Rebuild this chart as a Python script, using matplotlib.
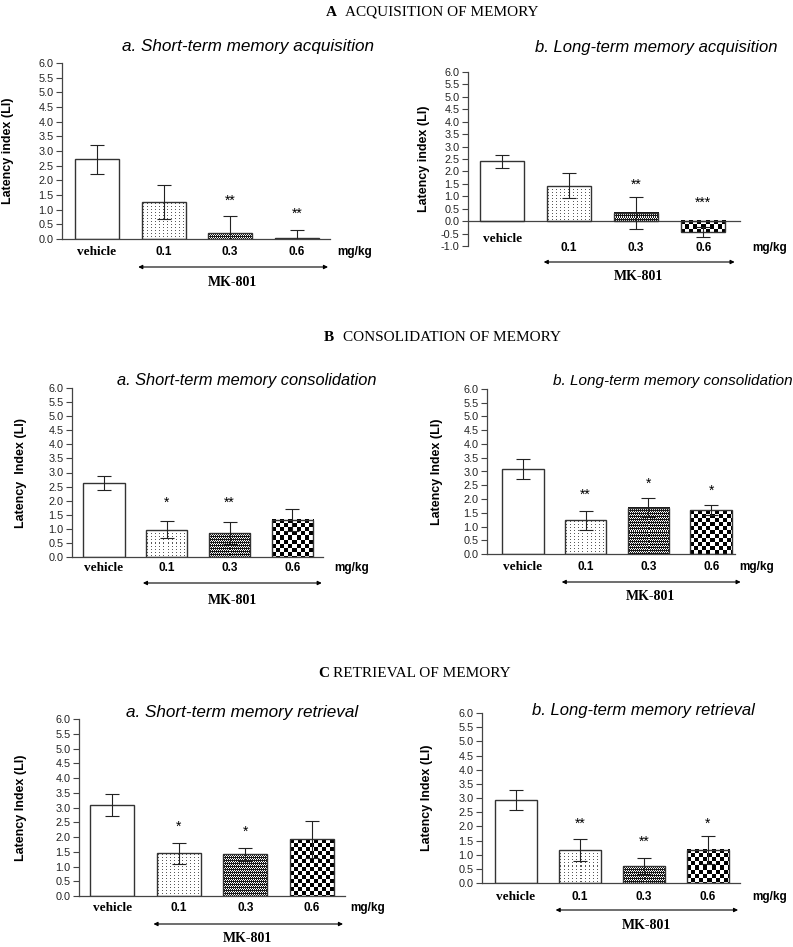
import numpy as np
import matplotlib.pyplot as plt
import matplotlib.transforms as mtransforms

W, H = 793, 947
SANS = 'Liberation Sans'
SERIF = 'Liberation Serif'

groups = ['vehicle', '0.1', '0.3', '0.6']
textures = [None, 'dots', 'fine', 'check']

# A - acquisition
acq_short = [2.72, 1.25, 0.20, 0.02]
acq_short_err = [0.50, 0.58, 0.58, 0.28]
acq_short_stars = ['', '', '**', '**']
acq_short_star_y = [0, 0, 1.30, 0.85]

acq_long = [2.40, 1.43, 0.33, -0.45]
acq_long_err = [0.25, 0.50, 0.65, 0.20]
acq_long_stars = ['', '', '**', '***']
acq_long_star_y = [0, 0, 1.48, 0.72]

# B - consolidation
con_short = [2.63, 0.97, 0.85, 1.32]
con_short_err = [0.25, 0.30, 0.38, 0.40]
con_short_stars = ['', '*', '**', '']
con_short_star_y = [0, 1.92, 1.92, 0]

con_long = [3.08, 1.22, 1.68, 1.60]
con_long_err = [0.37, 0.35, 0.35, 0.18]
con_long_stars = ['', '**', '*', '*']
con_long_star_y = [0, 2.15, 2.55, 2.29]

# C - retrieval
ret_short = [3.08, 1.45, 1.42, 1.92]
ret_short_err = [0.38, 0.35, 0.22, 0.62]
ret_short_stars = ['', '*', '*', '']
ret_short_star_y = [0, 2.34, 2.17, 0]

ret_long = [2.93, 1.17, 0.60, 1.17]
ret_long_err = [0.36, 0.38, 0.28, 0.50]
ret_long_stars = ['', '**', '**', '*']
ret_long_star_y = [0, 2.08, 1.45, 2.08]

panels = [
    ('a. Short-term memory acquisition', 'Latency index (LI)', acq_short, acq_short_err, acq_short_stars, acq_short_star_y,
     dict(box=(62, 330, 63, 239), ylim=(0, 6), xlim=(-0.525, 3.5), ylab_x=8, title=(248, 46), tsize=12.3,
          lab_y=(252, 252), mg_x=355, arrow_y=267, mk_y=283)),
    ('b. Long-term memory acquisition', 'Latency index (LI)', acq_long, acq_long_err, acq_long_stars, acq_long_star_y,
     dict(box=(468, 740, 72, 246), ylim=(-1, 6), xlim=(-0.51, 3.55), ylab_x=424, title=(656, 47), tsize=12,
          lab_y=(239, 248), mg_x=770, arrow_y=262, mk_y=276)),
    ('a. Short-term memory consolidation', 'Latency  Index (LI)', con_short, con_short_err, con_short_stars, con_short_star_y,
     dict(box=(72, 323, 388, 557), ylim=(0, 6), xlim=(-0.51, 3.49), ylab_x=21, title=(247, 381), tsize=11.8,
          lab_y=(568, 568), mg_x=352, arrow_y=583, mk_y=600)),
    ('b. Long-term memory consolidation', 'Latency Index (LI)', con_long, con_long_err, con_long_stars, con_long_star_y,
     dict(box=(487, 735, 389, 554), ylim=(0, 6), xlim=(-0.57, 3.38), ylab_x=437, title=(673, 381), tsize=11,
          lab_y=(567, 567), mg_x=757, arrow_y=582, mk_y=596)),
    ('a. Short-term memory retrieval', 'Latency Index (LI)', ret_short, ret_short_err, ret_short_stars, ret_short_star_y,
     dict(box=(79, 345, 719, 896), ylim=(0, 6), xlim=(-0.5, 3.5), ylab_x=21, title=(242, 712), tsize=12.3,
          lab_y=(908, 908), mg_x=368, arrow_y=924, mk_y=938)),
    ('b. Long-term memory retrieval', 'Latency Index (LI)', ret_long, ret_long_err, ret_long_stars, ret_long_star_y,
     dict(box=(482, 740, 713, 883), ylim=(0, 6), xlim=(-0.53, 3.5), ylab_x=427, title=(643, 710), tsize=12,
          lab_y=(897, 897), mg_x=770, arrow_y=910, mk_y=925)),
]

sections = [('A', 'ACQUISITION OF MEMORY', 326, 345, 12),
            ('B', 'CONSOLIDATION OF MEMORY', 324, 343, 337),
            ('C', 'RETRIEVAL OF MEMORY', 318, 333, 673)]


def fx(px):
    return px / W


def fy(py):
    return 1 - py / H


def texture(kind, h, w):
    yy, xx = np.mgrid[0:h, 0:w]
    if kind == 'dots':
        black = (xx % 4 == 1) & (yy % 3 == 1)
        return np.where(black, 0.35, 1.0)
    elif kind == 'fine':
        black = ((xx + yy) % 2 == 0) | (yy % 3 == 0)
        return np.where(black, 0.1, 1.0)
    black = ((xx // 4 + yy // 4) % 2 == 0)
    return np.where(black, 0.0, 1.0)


fig = plt.figure(figsize=(W / 100, H / 100), dpi=100)

for letter, text, lx, tx, ty in sections:
    fig.text(fx(lx), fy(ty), letter, fontsize=11, family=SERIF, weight='bold', va='center')
    fig.text(fx(tx), fy(ty), text, fontsize=11, family=SERIF, va='center')

for title, ylab, means, errs, stars, star_y, lay in panels:
    L, R, T, B = lay['box']
    ax = fig.add_axes([fx(L), fy(B), (R - L) / W, (B - T) / H])
    ax.set_xlim(*lay['xlim'])
    ax.set_ylim(*lay['ylim'])
    ax.set_autoscale_on(False)
    x = np.arange(len(groups))

    bars = ax.bar(x, means, width=0.66, facecolor='none', edgecolor='#333333', linewidth=1.0, zorder=3)
    ax.errorbar(x, means, yerr=errs, fmt='none', ecolor='#222222', elinewidth=0.8,
                capsize=5, capthick=0.8, zorder=4)

    fig.canvas.draw()
    for bar, kind in zip(bars, textures):
        bb = bar.get_window_extent()
        wpx = max(int(round(bb.width)), 1)
        hpx = max(int(round(bb.height)), 1)
        x0, y0 = bar.get_x(), bar.get_y()
        x1, y1 = x0 + bar.get_width(), y0 + bar.get_height()
        if kind is None:
            img = np.ones((hpx, wpx))
        else:
            img = texture(kind, hpx, wpx)
        ax.imshow(img, extent=(x0, x1, min(y0, y1), max(y0, y1)), cmap='gray', vmin=0, vmax=1,
                  interpolation='nearest', aspect='auto', zorder=2)

    for xi, s, sy in zip(x, stars, star_y):
        if s:
            ax.text(xi, sy, s, ha='center', va='center', fontsize=10, family=SANS, zorder=5)

    for side in ['top', 'right']:
        ax.spines[side].set_visible(False)
    ax.spines['bottom'].set_position(('data', 0))
    for side in ['left', 'bottom']:
        ax.spines[side].set_linewidth(0.9)
        ax.spines[side].set_color('#444444')
    ax.set_xticks([])
    ticks = np.arange(lay['ylim'][0], 6.01, 0.5)
    ax.set_yticks(ticks)
    ax.set_yticklabels(['%.1f' % v for v in ticks])
    ax.tick_params(axis='y', length=4, width=0.8, color='#444444', labelsize=7.8, pad=2,
                   labelcolor='#222222')
    for lbl in ax.get_yticklabels():
        lbl.set_family(SANS)

    fig.text(fx(lay['ylab_x']), fy((T + B) / 2), ylab, rotation=90, ha='center', va='center',
             fontsize=9, weight='bold', family=SANS)
    fig.text(fx(lay['title'][0]), fy(lay['title'][1]), title, ha='center', va='center',
             fontsize=lay['tsize'], style='italic', family=SANS)

    blend = mtransforms.blended_transform_factory(ax.transData, fig.transFigure)
    vy, dy = lay['lab_y']
    ax.text(0, fy(vy), groups[0], transform=blend, ha='center', va='center',
            fontsize=9.5, weight='bold', family=SERIF)
    for xi, g in zip(x[1:], groups[1:]):
        ax.text(xi, fy(dy), g, transform=blend, ha='center', va='center',
                fontsize=8.5, weight='bold', family=SANS)
    fig.text(fx(lay['mg_x']), fy(dy), 'mg/kg', ha='center', va='center',
             fontsize=8.5, weight='bold', family=SANS)
    ax.annotate('', xy=(3.47, fy(lay['arrow_y'])), xytext=(0.62, fy(lay['arrow_y'])),
                xycoords=blend, textcoords=blend, annotation_clip=False,
                arrowprops=dict(arrowstyle='<|-|>', color='black', lw=0.8,
                                mutation_scale=6, shrinkA=0, shrinkB=0))
    ax.text(2.04, fy(lay['mk_y']), 'MK-801', transform=blend, ha='center', va='center',
            fontsize=10, weight='bold', family=SERIF)

fig.savefig('out.png', dpi=100)
